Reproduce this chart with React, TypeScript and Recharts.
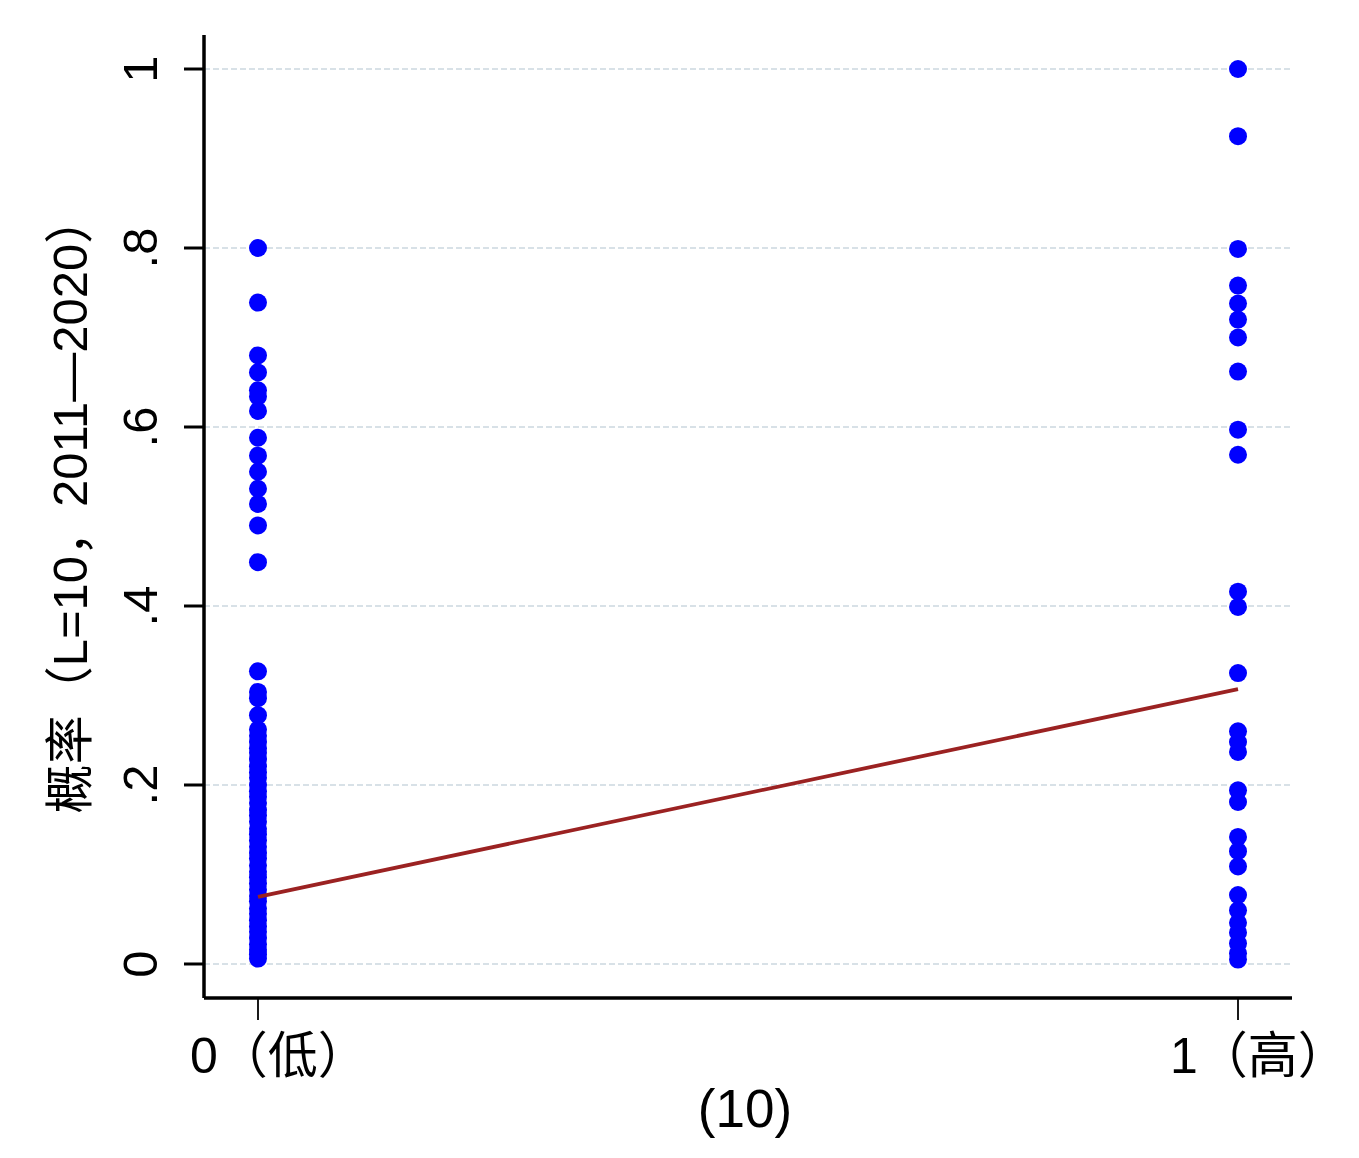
import { ScatterChart, Scatter, XAxis, YAxis, CartesianGrid } from 'recharts';

const FONT = "'Liberation Sans', Arial, 'Noto Sans CJK SC', sans-serif";

// probabilities for group 0 (低)
const lowValues = [
  0.8, 0.739, 0.68, 0.661, 0.641, 0.634, 0.618, 0.588, 0.568, 0.55, 0.531, 0.514, 0.49, 0.449,
  0.327, 0.304, 0.297, 0.278, 0.262, 0.255, 0.248, 0.241, 0.236, 0.229, 0.221, 0.214, 0.208,
  0.2, 0.193, 0.187, 0.18, 0.172, 0.166, 0.159, 0.151, 0.145, 0.138, 0.131, 0.124, 0.118, 0.11,
  0.103, 0.097, 0.09, 0.083, 0.076, 0.07, 0.062, 0.056, 0.049, 0.042, 0.036, 0.029, 0.022,
  0.016, 0.011, 0.006,
];

// probabilities for group 1 (高)
const highValues = [
  1.0, 0.925, 0.799, 0.758, 0.738, 0.72, 0.7, 0.662, 0.597, 0.569, 0.416, 0.399, 0.325,
  0.26, 0.248, 0.237, 0.194, 0.181, 0.142, 0.126, 0.109, 0.077, 0.06, 0.046, 0.035, 0.023,
  0.012, 0.005,
];

// fitted line endpoints
const fitX = [0, 1];
const fitY = [0.075, 0.307];

const yDomain = [-0.038, 1.038];
const yTicks = [0, 0.2, 0.4, 0.6, 0.8, 1];
const yTickLabels = ['0', '.2', '.4', '.6', '.8', '1'];
const xTicks = [0, 1];
const xTickLabels = ['0（低）', '1（高）'];

const points = [
  ...lowValues.map(y => ({ x: 0, y })),
  ...highValues.map(y => ({ x: 1, y })),
];
const fitData = fitX.map((x, i) => ({ x, y: fitY[i] }));

const YTick = ({ y, payload }: any) => {
  const i = yTicks.indexOf(payload.value);
  return (
    <text x={157} y={y} transform={`rotate(-90 157 ${y})`} textAnchor="middle"
      fontFamily={FONT} fontSize={49} fill="#000">
      {yTickLabels[i]}
    </text>
  );
};

const XTick = ({ x, payload }: any) => {
  const i = xTicks.indexOf(payload.value);
  return (
    <text x={x - 68} y={1073} textAnchor="start" fontFamily={FONT} fontSize={50} fill="#000">
      {xTickLabels[i]}
    </text>
  );
};

const YTitle = () => (
  <text x={87} y={504} transform="rotate(-90 87 504)" textAnchor="middle"
    fontFamily={FONT} fontSize={49} fill="#000">
    概率（L=10，2011—2020）
  </text>
);

const XTitle = () => (
  <text x={745} y={1127} textAnchor="middle" fontFamily={FONT} fontSize={53} fill="#000">
    (10)
  </text>
);

const Dot = (props: any) => <circle cx={props.cx} cy={props.cy} r={9} fill="#0000ff" />;

// grid rows only at the y ticks (no line on the plot's top edge)
const gridRows = (p: any) => {
  const top = p.offset?.top ?? 35;
  const h = p.offset?.height ?? 963;
  return yTicks.map(t => top + (1 - (t - yDomain[0]) / (yDomain[1] - yDomain[0])) * h);
};

export default function App() {
  return (
    <div style={{ position: 'absolute', left: 0, top: 0, background: '#fff' }}>
      <ScatterChart width={1359} height={1158} margin={{ top: 35, right: 67, bottom: 0, left: 0 }}>
        <CartesianGrid
          vertical={false}
          stroke="#cbd8e0"
          strokeWidth={1.6}
          strokeDasharray="6 3"
          horizontalCoordinatesGenerator={gridRows}
        />
        <XAxis
          type="number"
          dataKey="x"
          domain={[-0.0551, 1.0551]}
          ticks={xTicks}
          allowDataOverflow
          height={160}
          axisLine={{ stroke: '#000', strokeWidth: 3.5 }}
          tickLine={{ stroke: '#000', strokeWidth: 1.8 }}
          tickSize={22}
          tick={<XTick />}
          label={<XTitle />}
        />
        <YAxis
          type="number"
          dataKey="y"
          domain={yDomain}
          ticks={yTicks}
          allowDataOverflow
          width={204}
          axisLine={{ stroke: '#000', strokeWidth: 3.5 }}
          tickLine={{ stroke: '#000', strokeWidth: 3 }}
          tickSize={20}
          tick={<YTick />}
          label={<YTitle />}
        />
        <Scatter data={points} shape={<Dot />} isAnimationActive={false} />
        <Scatter
          data={fitData}
          line={{ stroke: '#9b2222', strokeWidth: 3.8 }}
          shape={() => <g />}
          isAnimationActive={false}
        />
      </ScatterChart>
    </div>
  );
}
